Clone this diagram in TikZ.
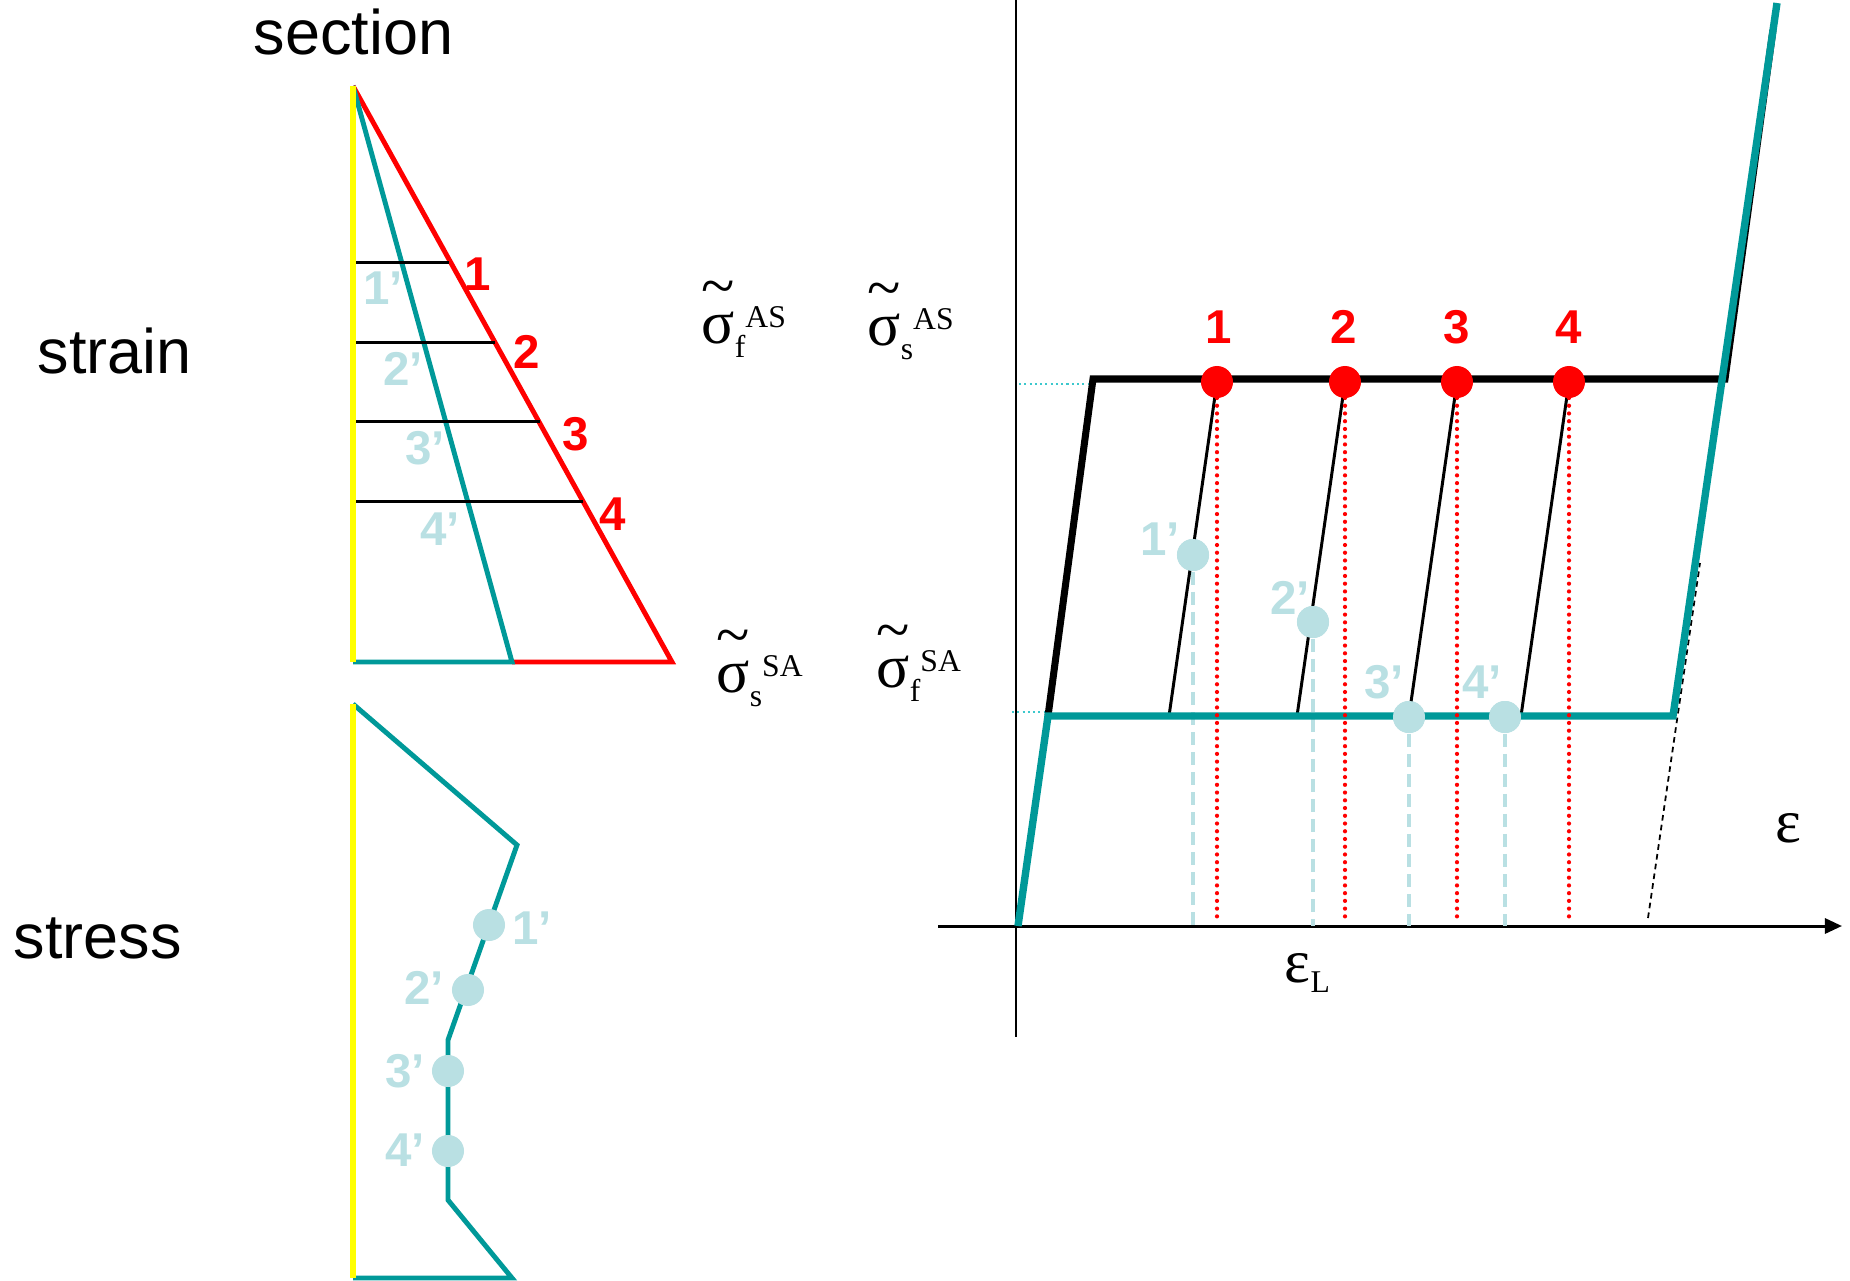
\documentclass[tikz,border=0pt]{standalone}
\usepackage{fontspec}
\setmainfont{Liberation Serif}
\setsansfont{Liberation Sans}
\usetikzlibrary{arrows.meta}
\definecolor{tealc}{RGB}{0,153,153}
\definecolor{lblue}{RGB}{185,224,227}
\definecolor{cyandot}{RGB}{60,200,205}
\definecolor{yel}{RGB}{255,255,0}
\newcommand{\sigtl}[2]{\makebox[0pt][l]{\raisebox{0.6em}{\textasciitilde}}σ\raisebox{-0.23em}{\fontsize{9}{10}\selectfont #1}\raisebox{0.25em}{\fontsize{9}{10}\selectfont #2}}
\tikzset{
  sectxt/.style={font=\sffamily\fontsize{17.9}{20}\selectfont, inner sep=0pt, anchor=base west},
  rednum/.style={font=\sffamily\bfseries\fontsize{13.5}{15}\selectfont, text=red, inner sep=0pt},
  bluenum/.style={font=\sffamily\bfseries\fontsize{13.5}{15}\selectfont, text=lblue, inner sep=0pt},
  symb/.style={font=\fontsize{17.5}{20}\selectfont, inner sep=0pt, anchor=base west},
  reddot/.style={circle, fill=red, minimum size=0.32cm, inner sep=0pt},
  bluedot/.style={circle, fill=lblue, minimum size=0.32cm, inner sep=0pt},
  yelline/.style={yel, line width=1.7pt},
  redline/.style={red, line width=1.4pt, line join=miter},
  tealline/.style={tealc, line width=1.4pt, line join=miter},
  thinblack/.style={black, line width=0.85pt},
  thickblack/.style={black, line width=2pt, line join=miter},
  thickteal/.style={tealc, line width=2.1pt, line join=miter},
  axisline/.style={black, line width=0.85pt},
  reddotted/.style={red, line width=1.2pt, line cap=round, dash pattern=on 0pt off 2.2pt},
  bluedashed/.style={lblue, line width=0.9pt, dash pattern=on 3.7pt off 2pt},
  cyandotted/.style={cyandot, line width=0.6pt, dash pattern=on 0.6pt off 0.9pt},
  blackdashed/.style={black, line width=0.5pt, dash pattern=on 1.6pt off 1.2pt}
}
\begin{document}
\begin{tikzpicture}[x=0.01cm,y=-0.01cm]
\useasboundingbox (0,0) rectangle (1850,1281);
\fill[white] (0,0) rectangle (1850,1281);

% ---------- titles ----------
\node[sectxt] (tsection) at (253,54) {section};
\node[sectxt] (tstrain) at (37,373) {strain};
\node[sectxt] (tstress) at (13,958) {stress};

% ---------- strain section ----------
\coordinate (apex) at (353,86);
\coordinate (ybot) at (353,662);
\coordinate (tbot) at (512,662);
\coordinate (rbot) at (672,662);
\draw[redline] (apex) -- (rbot) -- (tbot);
\draw[tealline] (apex) -- (tbot) -- (ybot);
\foreach \i/\y/\xe in {1/262/449, 2/342/495, 3/421/540, 4/501/583}{
  \coordinate (hl\i) at (353,\y);
  \coordinate (hr\i) at (\xe,\y);
  \draw[thinblack] (hl\i) -- (hr\i);
}
\draw[yelline] (apex) -- (ybot);
\node[rednum] (sr1) at (478,274) {1};
\node[rednum] (sr2) at (527,352) {2};
\node[rednum] (sr3) at (576,434) {3};
\node[rednum] (sr4) at (613,514) {4};
\node[bluenum] (sb1) at (383,288) {1’};
\node[bluenum] (sb2) at (403,369) {2’};
\node[bluenum] (sb3) at (425,448) {3’};
\node[bluenum] (sb4) at (440,529) {4’};

% ---------- stress section ----------
\coordinate (st0) at (353,704);
\coordinate (st1) at (517,845);
\coordinate (st2) at (448,1040);
\coordinate (st3) at (448,1200);
\coordinate (st4) at (512,1278);
\coordinate (st5) at (353,1278);
\draw[tealline] (st0) -- (st1) -- (st2) -- (st3) -- (st4) -- (st5);
\draw[yelline] (st0) -- (st5);
\node[bluedot] (sd1) at (489,925) {};
\node[bluedot] (sd2) at (468,990) {};
\node[bluedot] (sd3) at (448,1071) {};
\node[bluedot] (sd4) at (448,1151) {};
\node[bluenum] (sl1) at (532,928) {1’};
\node[bluenum] (sl2) at (424,988) {2’};
\node[bluenum] (sl3) at (405,1071) {3’};
\node[bluenum] (sl4) at (405,1150) {4’};

% ---------- symbols ----------
\node[symb] (sfAS) at (701,343) {\sigtl{f}{AS}};
\node[symb] (ssAS) at (867,345) {\sigtl{s}{AS}};
\node[symb] (ssSA) at (716,692) {\sigtl{s}{SA}};
\node[symb] (sfSA) at (876,687) {\sigtl{f}{SA}};

% ---------- graph ----------
\coordinate (vtop) at (1016,0);
\coordinate (vbot) at (1016,1037);
\coordinate (hleft) at (938,926);
\coordinate (hright) at (1842,926);
\draw[axisline] (vtop) -- (vbot);
\draw[axisline,-{Triangle[length=0.17cm,width=0.15cm]}] (hleft) -- (hright);

\coordinate (cA) at (1019,384); \coordinate (cB) at (1088,384);
\coordinate (cC) at (1012,712); \coordinate (cD) at (1045,712);
\draw[cyandotted] (cA) -- (cB);
\draw[cyandotted] (cC) -- (cD);

\coordinate (dA) at (1648,918); \coordinate (dB) at (1700,563);
\draw[blackdashed] (dA) -- (dB);

% light-blue points
\node[bluedot] (g1) at (1193,555) {};
\node[bluedot] (g2) at (1313,622) {};
\node[bluedot] (g3) at (1409,717) {};
\node[bluedot] (g4) at (1505,717) {};
\foreach \i/\x in {1/1193,2/1313,3/1409,4/1505}{
  \coordinate (ga\i) at (\x,926);
  \draw[bluedashed] (g\i.south) -- (ga\i);
}

% unloading lines
\foreach \i/\x in {1/1217,2/1345,3/1457,4/1569}{
  \pgfmathsetmacro{\xb}{\x-48}
  \coordinate (ut\i) at (\x,382);
  \coordinate (ub\i) at (\xb,716);
  \draw[thinblack] (ut\i) -- (ub\i);
}

% thick curves
\coordinate (B0) at (1048,716);
\coordinate (B1) at (1093,379);
\coordinate (B2) at (1725,379);
\coordinate (B3) at (1773,30);
\draw[thickblack] (B0) -- (B1) -- (B2) -- (B3);
\coordinate (T0) at (1018,926);
\coordinate (T1) at (1048,716);
\coordinate (T2) at (1673,716);
\coordinate (T3) at (1777,3);
\draw[thickteal] (T0) -- (T1) -- (T2) -- (T3);

% red dotted verticals
\foreach \i/\x in {1/1217,2/1345,3/1457,4/1569}{
  \coordinate (ra\i) at (\x,398);
  \coordinate (rb\i) at (\x,918);
  \draw[reddotted] (ra\i) -- (rb\i);
}

% red points
\node[reddot] (r1) at (1217,382) {};
\node[reddot] (r2) at (1345,382) {};
\node[reddot] (r3) at (1457,382) {};
\node[reddot] (r4) at (1569,382) {};
\node[rednum] (gr1) at (1219,327) {1};
\node[rednum] (gr2) at (1344,327) {2};
\node[rednum] (gr3) at (1457,327) {3};
\node[rednum] (gr4) at (1569,327) {4};

% light-blue dots redrawn on top
\node[bluedot] (g1b) at (g1) {};
\node[bluedot] (g2b) at (g2) {};
\node[bluedot] (g3b) at (g3) {};
\node[bluedot] (g4b) at (g4) {};
\node[bluenum] (gl1) at (1160,539) {1’};
\node[bluenum] (gl2) at (1290,598) {2’};
\node[bluenum] (gl3) at (1384,682) {3’};
\node[bluenum] (gl4) at (1482,682) {4’};

% epsilon labels
\node[symb] (eps) at (1775,842) {ε};
\node[symb] (epsL) at (1284,982) {ε\raisebox{-0.17em}{\fontsize{9}{10}\selectfont L}};
\end{tikzpicture}
\end{document}
